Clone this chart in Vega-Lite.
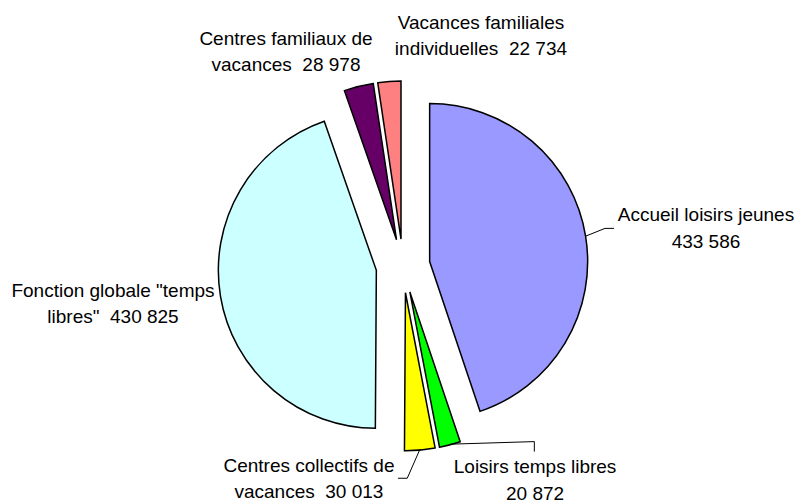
{
  "$schema": "https://vega.github.io/schema/vega-lite/v6.json",
  "width": 797,
  "height": 504,
  "padding": 0,
  "autosize": {"type": "fit", "contains": "padding"},
  "background": "#ffffff",
  "config": {"view": {"stroke": null}},
  "data": {
    "values": [
      {"categorie": "Accueil loisirs jeunes", "valeur": 433586, "etiquette": "Accueil loisirs jeunes\n433 586"},
      {"categorie": "Loisirs temps libres", "valeur": 20872, "etiquette": "Loisirs temps libres\n20 872"},
      {"categorie": "Centres collectifs de vacances", "valeur": 30013, "etiquette": "Centres collectifs de\nvacances \u00a030 013"},
      {"categorie": "Fonction globale \"temps libres\"", "valeur": 430825, "etiquette": "Fonction globale \"temps\nlibres\" \u00a0430 825"},
      {"categorie": "Centres familiaux de vacances", "valeur": 28978, "etiquette": "Centres familiaux de\nvacances \u00a028 978"},
      {"categorie": "Vacances familiales individuelles", "valeur": 22734, "etiquette": "Vacances familiales\nindividuelles \u00a022 734"}
    ]
  },
  "transform": [
    {"joinaggregate": [{"op": "sum", "field": "valeur", "as": "total"}]},
    {"window": [{"op": "sum", "field": "valeur", "as": "cumul"}], "frame": [null, 0]},
    {"calculate": "(datum.cumul - datum.valeur) / datum.total", "as": "debut"},
    {"calculate": "datum.cumul / datum.total", "as": "fin"},
    {"calculate": "PI * (datum.debut + datum.fin)", "as": "milieu"},
    {"calculate": "0.171 * sin(datum.milieu)", "as": "ex"},
    {"calculate": "0.171 * cos(datum.milieu)", "as": "ey"},
    {"calculate": "1.171 * sin(datum.milieu)", "as": "ax"},
    {"calculate": "1.171 * cos(datum.milieu)", "as": "ay"}
  ],
  "layer": [
    {
      "mark": {"type": "arc", "outerRadius": 158, "stroke": "#000000", "strokeWidth": 1.5, "strokeJoin": "miter"},
      "encoding": {
        "theta": {"field": "debut", "type": "quantitative", "scale": {"domain": [0, 1]}, "stack": null},
        "theta2": {"field": "fin"},
        "x": {"field": "ex", "type": "quantitative", "scale": {"domain": [-2.5506, 2.4937], "nice": false, "zero": false}, "axis": null, "stack": null},
        "y": {"field": "ey", "type": "quantitative", "scale": {"domain": [-1.5, 1.6899], "nice": false, "zero": false}, "axis": null, "stack": null},
        "color": {
          "field": "categorie", "type": "nominal", "legend": null,
          "scale": {
            "domain": ["Accueil loisirs jeunes", "Loisirs temps libres", "Centres collectifs de vacances", "Fonction globale \"temps libres\"", "Centres familiaux de vacances", "Vacances familiales individuelles"],
            "range": ["#9999FF", "#00FF00", "#FFFF00", "#CCFFFF", "#660066", "#FF8080"]
          }
        }
      }
    },
    {
      "transform": [{"filter": {"field": "categorie", "equal": "Accueil loisirs jeunes"}}],
      "mark": {"type": "rule", "stroke": "#000000", "strokeWidth": 1, "x2Offset": 19.4, "y2Offset": -7.8},
      "encoding": {"x": {"field": "ax", "type": "quantitative"}, "y": {"field": "ay", "type": "quantitative"}, "x2": {"field": "ax"}, "y2": {"field": "ay"}}
    },
    {
      "transform": [{"filter": {"field": "categorie", "equal": "Accueil loisirs jeunes"}}],
      "mark": {"type": "rule", "stroke": "#000000", "strokeWidth": 1, "xOffset": 19.4, "yOffset": -7.8, "x2Offset": 28.4, "y2Offset": -7.8},
      "encoding": {"x": {"field": "ax", "type": "quantitative"}, "y": {"field": "ay", "type": "quantitative"}, "x2": {"field": "ax"}, "y2": {"field": "ay"}}
    },
    {
      "transform": [{"filter": {"field": "categorie", "equal": "Loisirs temps libres"}}],
      "mark": {"type": "rule", "stroke": "#000000", "strokeWidth": 1, "x2Offset": 84.4, "y2Offset": -2.6},
      "encoding": {"x": {"field": "ax", "type": "quantitative"}, "y": {"field": "ay", "type": "quantitative"}, "x2": {"field": "ax"}, "y2": {"field": "ay"}}
    },
    {
      "transform": [{"filter": {"field": "categorie", "equal": "Loisirs temps libres"}}],
      "mark": {"type": "rule", "stroke": "#000000", "strokeWidth": 1, "xOffset": 84.4, "yOffset": -2.6, "x2Offset": 84.4, "y2Offset": 7.4},
      "encoding": {"x": {"field": "ax", "type": "quantitative"}, "y": {"field": "ay", "type": "quantitative"}, "x2": {"field": "ax"}, "y2": {"field": "ay"}}
    },
    {
      "transform": [{"filter": {"field": "categorie", "equal": "Centres collectifs de vacances"}}],
      "mark": {"type": "rule", "stroke": "#000000", "strokeWidth": 1, "x2Offset": -12.6, "y2Offset": 28.8},
      "encoding": {"x": {"field": "ax", "type": "quantitative"}, "y": {"field": "ay", "type": "quantitative"}, "x2": {"field": "ax"}, "y2": {"field": "ay"}}
    },
    {
      "transform": [{"filter": {"field": "categorie", "equal": "Centres collectifs de vacances"}}],
      "mark": {"type": "rule", "stroke": "#000000", "strokeWidth": 1, "xOffset": -12.6, "yOffset": 28.8, "x2Offset": -21.9, "y2Offset": 28.8},
      "encoding": {"x": {"field": "ax", "type": "quantitative"}, "y": {"field": "ay", "type": "quantitative"}, "x2": {"field": "ax"}, "y2": {"field": "ay"}}
    },
    {
      "transform": [{"filter": {"field": "categorie", "equal": "Accueil loisirs jeunes"}}],
      "mark": {"type": "text", "font": "Liberation Sans", "fontSize": 19, "lineBreak": "\n", "lineHeight": 26.5, "align": "center", "baseline": "alphabetic", "color": "#000000", "dx": 120.4, "dy": -15.1},
      "encoding": {"x": {"field": "ax", "type": "quantitative"}, "y": {"field": "ay", "type": "quantitative"}, "text": {"field": "etiquette"}}
    },
    {
      "transform": [{"filter": {"field": "categorie", "equal": "Loisirs temps libres"}}],
      "mark": {"type": "text", "font": "Liberation Sans", "fontSize": 19, "lineBreak": "\n", "lineHeight": 26.5, "align": "center", "baseline": "alphabetic", "color": "#000000", "dx": 85.1, "dy": 29.1},
      "encoding": {"x": {"field": "ax", "type": "quantitative"}, "y": {"field": "ay", "type": "quantitative"}, "text": {"field": "etiquette"}}
    },
    {
      "transform": [{"filter": {"field": "categorie", "equal": "Centres collectifs de vacances"}}],
      "mark": {"type": "text", "font": "Liberation Sans", "fontSize": 19, "lineBreak": "\n", "lineHeight": 26.5, "align": "center", "baseline": "alphabetic", "color": "#000000", "dx": -110.9, "dy": 22.3},
      "encoding": {"x": {"field": "ax", "type": "quantitative"}, "y": {"field": "ay", "type": "quantitative"}, "text": {"field": "etiquette"}}
    },
    {
      "transform": [{"filter": {"field": "categorie", "equal": "Fonction globale \"temps libres\""}}],
      "mark": {"type": "text", "font": "Liberation Sans", "fontSize": 19, "lineBreak": "\n", "lineHeight": 26.5, "align": "center", "baseline": "alphabetic", "color": "#000000", "dx": -107.5, "dy": 0.6},
      "encoding": {"x": {"field": "ax", "type": "quantitative"}, "y": {"field": "ay", "type": "quantitative"}, "text": {"field": "etiquette"}}
    },
    {
      "transform": [{"filter": {"field": "categorie", "equal": "Centres familiaux de vacances"}}],
      "mark": {"type": "text", "font": "Liberation Sans", "fontSize": 19, "lineBreak": "\n", "lineHeight": 26.5, "align": "center", "baseline": "alphabetic", "color": "#000000", "dx": -72.7, "dy": -42.4},
      "encoding": {"x": {"field": "ax", "type": "quantitative"}, "y": {"field": "ay", "type": "quantitative"}, "text": {"field": "etiquette"}}
    },
    {
      "transform": [{"filter": {"field": "categorie", "equal": "Vacances familiales individuelles"}}],
      "mark": {"type": "text", "font": "Liberation Sans", "fontSize": 19, "lineBreak": "\n", "lineHeight": 26.5, "align": "center", "baseline": "alphabetic", "color": "#000000", "dx": 91.6, "dy": -53.2},
      "encoding": {"x": {"field": "ax", "type": "quantitative"}, "y": {"field": "ay", "type": "quantitative"}, "text": {"field": "etiquette"}}
    }
  ]
}
